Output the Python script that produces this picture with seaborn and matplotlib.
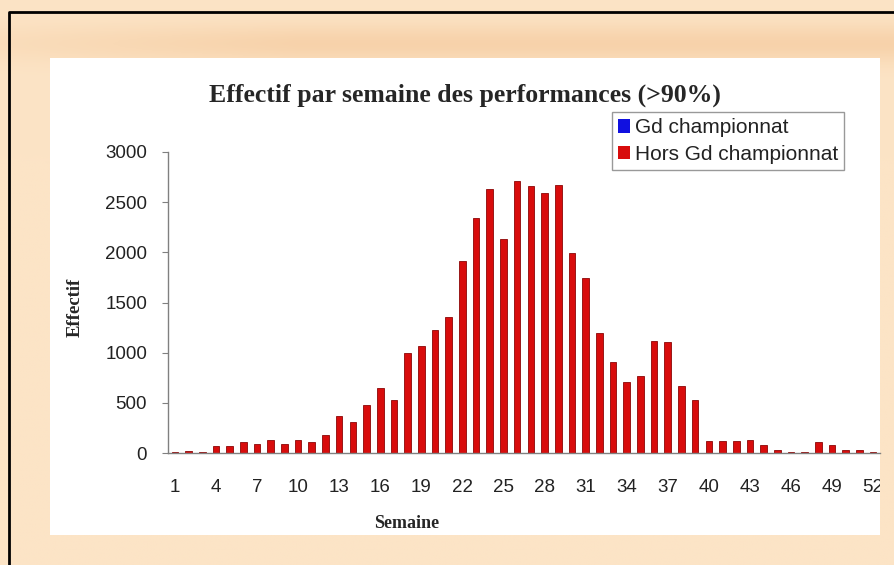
import matplotlib
matplotlib.use("Agg")
import matplotlib.pyplot as plt
from matplotlib.patches import Rectangle, Patch
from matplotlib.lines import Line2D
from matplotlib.transforms import Bbox, TransformedBbox
import seaborn as sns
import numpy as np
import pandas as pd

# Data
semaines = list(range(1, 53))
gd_championnat = [0] * 52
hors_gd_championnat = [5, 15, 10, 66, 66, 110, 93, 126, 93, 126,
                       106, 179, 365, 308, 481, 643, 530, 1000, 1068, 1230,
                       1359, 1916, 2344, 2636, 2135, 2709, 2659, 2596, 2676, 1989,
                       1741, 1200, 902, 703, 763, 1117, 1104, 670, 530, 123,
                       123, 116, 133, 83, 27, 10, 13, 106, 80, 33,
                       33, 7]
series = ["Gd championnat", "Hors Gd championnat"]
colors = {"Gd championnat": "#1010e0", "Hors Gd championnat": "#d80c0c"}
y_ticks = [0, 500, 1000, 1500, 2000, 2500, 3000]

df = pd.DataFrame({
    "Semaine": [str(s) for s in semaines] * 2,
    "Effectif": gd_championnat + hors_gd_championnat,
    "Serie": [series[0]] * 52 + [series[1]] * 52,
})

sns.set_style("white")
plt.rcParams["font.family"] = ["Liberation Sans", "DejaVu Sans"]

W, H = 894, 565
fig = plt.figure(figsize=(W / 100, H / 100), dpi=100)
fig.patch.set_facecolor("#fce3c3")

# background gradient (beige frame with darker band at top)
bg = fig.add_axes([0, 0, 1, 1], zorder=-10)
gy = np.linspace(0, 1, 200)[:, None]
gx = np.linspace(0, 1, 300)[None, :]
band = np.exp(-((gy - 0.075) / 0.035) ** 2) * 0.8
band = band * (0.4 + 0.6 * np.clip(gx * 3, 0, 1))
base = np.array([252, 228, 198]) / 255
dark = np.array([246, 206, 164]) / 255
img = base[None, None, :] * (1 - band[..., None]) + dark[None, None, :] * band[..., None]
bg.imshow(img, extent=[0, 1, 0, 1], aspect="auto", origin="upper")
bg.set_xlim(0, 1)
bg.set_ylim(0, 1)
bg.axis("off")

def fx(px):
    return px / W

def fy(py):
    return 1 - py / H

# white panel and black outer border
fig.patches.append(Rectangle((fx(50), fy(535)), fx(880) - fx(50), fy(58) - fy(535),
                             transform=fig.transFigure, facecolor="white",
                             edgecolor="none", zorder=-5))
fig.lines.append(Line2D([fx(9), fx(9), fx(894)], [fy(565), fy(12), fy(12)],
                        transform=fig.transFigure, color="black", lw=2))

ax = fig.add_axes([fx(168), fy(453), fx(880) - fx(168), fy(152) - fy(453)])
ax.set_facecolor("none")
sns.barplot(data=df, x="Semaine", y="Effectif", hue="Serie",
            order=[str(s) for s in semaines], hue_order=series,
            palette=colors, dodge=False, width=0.48, saturation=1, ax=ax,
            edgecolor="#8c0606", linewidth=0.6, errorbar=None, legend=False)
for p in ax.patches:
    if p.get_height() == 0:
        p.set_visible(False)

ax.set_xlim(-0.5, 51.5)
ax.set_ylim(0, 3000)
ax.set_yticks(y_ticks)
ax.set_yticklabels([str(v) for v in y_ticks], fontsize=13.5, color="#222222")
ax.set_xticks(range(0, 52, 3))
ax.set_xticklabels([str(s) for s in semaines[::3]], fontsize=13.5, color="#222222")
ax.set_xticks(np.arange(-0.5, 52, 1), minor=True)
ax.tick_params(axis="x", which="major", length=0, pad=19)
ax.tick_params(axis="x", which="minor", length=4, width=0.8, color="#808080", direction="out")
ax.tick_params(axis="y", which="major", length=4, width=0.8, color="#808080", pad=11, left=True)
ax.set_xlabel("")
ax.set_ylabel("")
for side in ["top", "right"]:
    ax.spines[side].set_visible(False)
for side in ["left", "bottom"]:
    ax.spines[side].set_color("#808080")
    ax.spines[side].set_linewidth(1)

# the last tick label is cut by the edge of the white panel
panel_clip = TransformedBbox(Bbox([[fx(50), fy(535)], [fx(880), fy(58)]]), fig.transFigure)
for lab in ax.get_xticklabels():
    lab.set_clip_box(panel_clip)
    lab.set_clip_on(True)

serif = ["Liberation Serif", "DejaVu Serif"]
fig.text(fx(465), fy(95), "Effectif par semaine des performances (>90%)",
         ha="center", va="center", fontsize=18.5, fontweight="bold", family=serif)
fig.text(fx(75), fy(307), "Effectif", rotation=90, ha="center", va="center",
         fontsize=13.5, fontweight="bold", family=serif)
fig.text(fx(407), fy(524), "Semaine", ha="center", va="center",
         fontsize=13, fontweight="bold", family=serif)

handles = [Patch(facecolor=colors[s], edgecolor="none") for s in series]
leg = ax.legend(handles, series, loc="upper left",
                bbox_to_anchor=(fx(612), fy(112)), bbox_transform=fig.transFigure,
                frameon=True, fancybox=False, fontsize=15, handlelength=0.55,
                handleheight=0.6, handletextpad=0.25, borderpad=0.3,
                labelspacing=0.35, borderaxespad=0)
leg.get_frame().set_edgecolor("#808080")
leg.get_frame().set_linewidth(1)
for t in leg.get_texts():
    t.set_color("#222222")

fig.savefig("out.png", dpi=100, facecolor=fig.get_facecolor())
